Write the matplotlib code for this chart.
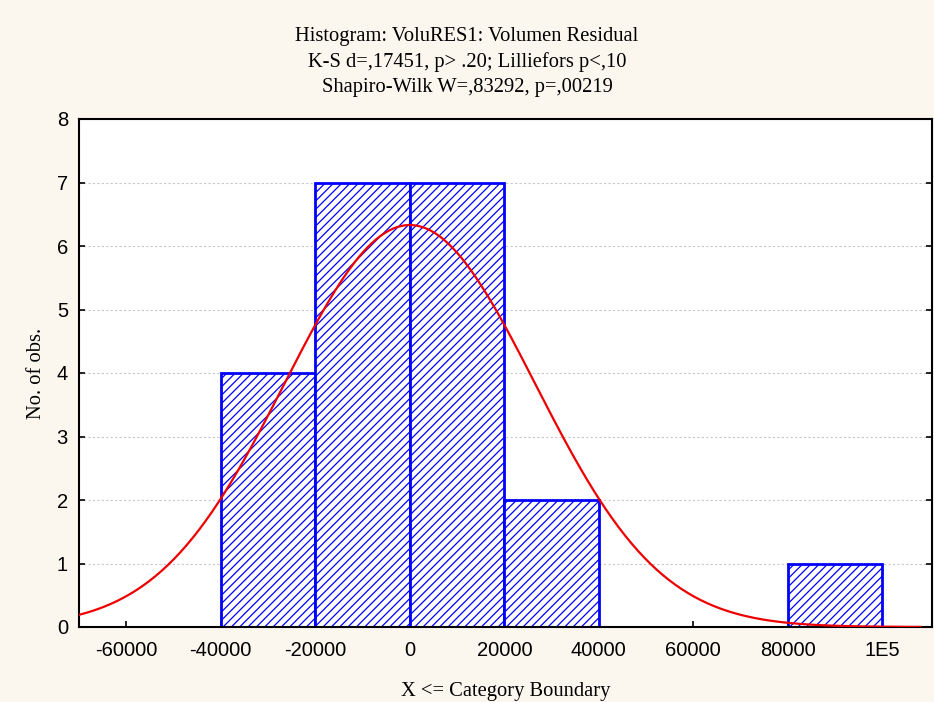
import matplotlib
matplotlib.use('Agg')
import matplotlib.pyplot as plt
import numpy as np

# histogram bins (left boundary) and counts
bin_lefts = [-40000, -20000, 0, 20000, 60000, 80000]
counts = [4, 7, 7, 2, 0, 1]
bin_width = 20000

# fitted normal curve parameters
n_obs = 21
fit_mean = 0.0
fit_sd = 26470.0

xticks = [-60000, -40000, -20000, 0, 20000, 40000, 60000, 80000, 100000]
xtick_labels = ['-60000', '-40000', '-20000', '0', '20000', '40000', '60000', '80000', '1E5']

bg = '#fbf7ee'
plt.rcParams['hatch.color'] = '#0000ff'
plt.rcParams['hatch.linewidth'] = 0.9

fig = plt.figure(figsize=(9.34, 7.02), dpi=100, facecolor=bg)
ax = fig.add_axes([79 / 934, 1 - 627 / 702, (932 - 79) / 934, (627 - 119) / 702])
ax.set_facecolor('white')

ax.bar(bin_lefts, counts, width=bin_width, align='edge', facecolor='white',
       edgecolor='#0000ff', linewidth=2.0, hatch='////', zorder=2)

xs = np.linspace(-70000, 108000, 400)
ys = n_obs * bin_width / (fit_sd * np.sqrt(2 * np.pi)) * np.exp(-0.5 * ((xs - fit_mean) / fit_sd) ** 2)
ax.plot(xs, ys, color='#ee0000', linewidth=1.6, zorder=3)

ax.set_xlim(-70000, 110500)
ax.set_ylim(0, 8)
ax.set_xticks(xticks)
ax.set_xticklabels(xtick_labels)
ax.set_yticks(range(0, 9))
ax.yaxis.grid(True, color='#c8c8c8', linestyle=(0, (2, 2)), linewidth=0.8, zorder=0)
ax.set_axisbelow(True)
ax.tick_params(direction='in', length=4, width=1.2, labelsize=14.5, pad=10,
               top=False, right=True)
ax.tick_params(axis='y', pad=8)
for lbl in ax.get_xticklabels() + ax.get_yticklabels():
    lbl.set_fontfamily('Liberation Sans')
for s in ax.spines.values():
    s.set_linewidth(1.5)

ax.set_xlabel('X <= Category Boundary', fontfamily='Liberation Serif', fontsize=14.8, labelpad=16)
ax.set_ylabel('No. of obs.', fontfamily='Liberation Serif', fontsize=14.8, labelpad=8)

title = ('Histogram: VoluRES1: Volumen Residual\n'
         'K-S d=,17451, p> .20; Lilliefors p<,10\n'
         'Shapiro-Wilk W=,83292, p=,00219')
fig.text(0.5, 1 - 27 / 702, title, ha='center', va='top', fontfamily='Liberation Serif',
         fontsize=14.8, linespacing=1.42)

plt.savefig('out.png', dpi=100, facecolor=bg)
plt.close()
